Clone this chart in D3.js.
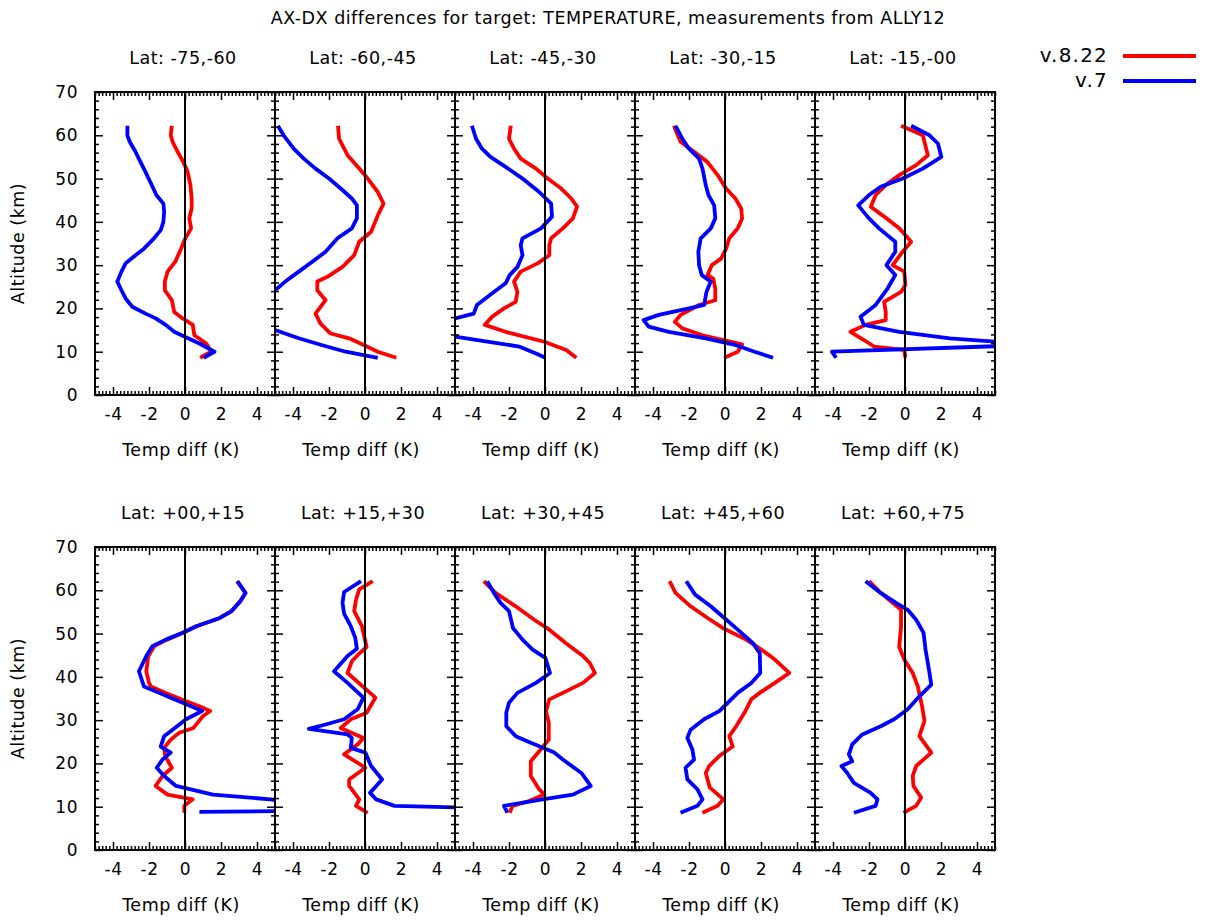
<!DOCTYPE html>
<html>
<head>
<meta charset="utf-8">
<script src="https://cdn.jsdelivr.net/npm/d3@7"></script>
<style>
  body { margin: 0; background: #fff; }
  svg { font-family: "DejaVu Sans", sans-serif; }
</style>
</head>
<body>
<svg id="chart" width="1206" height="924"></svg>
<script>
// latitude bands, one panel each
const latBands = ['-75,-60', '-60,-45', '-45,-30', '-30,-15', '-15,-00',
                  '+00,+15', '+15,+30', '+30,+45', '+45,+60', '+60,+75'];
const seriesNames = ['v.8.22', 'v.7'];
const seriesColors = ['#ff0000', '#0000ff'];
const xTicks = [-4, -2, 0, 2, 4];
const yTicks = [0, 10, 20, 30, 40, 50, 60, 70];

// profiles as [altitude km, temp diff K]
const red_m75_m60 = [[62.2,-0.73],[60,-0.79],[58.5,-0.69],[56.2,-0.41],[53.8,-0.09],[51.5,0.15],[48.5,0.3],[45.4,0.37],[43.1,0.37],[40.8,0.24],[38.5,0.34],[36.2,0.02],[33.8,-0.22],[30.8,-0.54],[28.5,-0.97],[26.2,-1.12],[24.2,-1.12],[21.9,-0.73],[19.2,-0.6],[17.7,-0.13],[16.2,0.43],[13.8,0.52],[11.9,1.18],[10,1.46],[8.6,0.84]];
const blue_m75_m60 = [[62.2,-3.2],[60,-3.2],[58.5,-3.07],[56.2,-2.75],[53.8,-2.47],[51.5,-2.19],[48.5,-1.85],[46.2,-1.59],[44.2,-1.2],[42.3,-1.16],[40,-1.2],[38.1,-1.35],[36.2,-1.72],[33.8,-2.28],[32.3,-2.75],[30.4,-3.3],[28.5,-3.53],[26.2,-3.76],[24.2,-3.53],[22.3,-3.3],[20.4,-2.93],[18.8,-2.19],[17.7,-1.63],[16.2,-1.07],[14.6,-0.6],[13.5,-0.04],[11.9,0.8],[10,1.64],[8.6,1.03]];

const red_m60_m45 = [[62.2,-1.5],[59.2,-1.44],[55.4,-0.97],[52.3,-0.32],[50,0.15],[46.9,0.71],[44.2,1.03],[41.5,0.71],[37.7,0.34],[35.4,-0.32],[32.3,-0.6],[29.6,-1.25],[27.3,-2.09],[26.2,-2.65],[24.2,-2.65],[21.9,-2.19],[18.8,-2.75],[16.5,-2.47],[14.2,-1.91],[13.1,-0.88],[11.5,-0.04],[10,0.71],[8.6,1.74]];
const blue_m60_m45 = [[62.2,-4.84],[60,-4.52],[56.9,-3.96],[54.6,-3.4],[52.3,-2.75],[50,-2.0],[47.7,-1.35],[45.4,-0.73],[43.8,-0.45],[40.8,-0.45],[38.5,-0.73],[36.2,-1.53],[33.1,-2.19],[30.8,-2.93],[28.5,-3.68],[26.2,-4.43],[24.2,-5.0],[21.5,-6.2],[18.5,-6.6],[15.0,-5.0],[13.1,-3.68],[11.5,-2.37],[10,-1.07],[8.6,0.71]];

const red_m45_m30 = [[62.2,-1.9],[59.2,-2.0],[56.9,-1.72],[54.6,-1.35],[52.3,-0.5],[50,0.15],[47.7,0.9],[45.4,1.46],[43.5,1.78],[40.8,1.55],[38.5,0.99],[36.2,0.34],[34.6,0.24],[32.3,0.24],[30.4,-0.41],[28.5,-1.35],[26.2,-1.72],[23.8,-1.53],[21.5,-1.63],[20,-2.28],[18.1,-2.93],[16.2,-3.35],[14.6,-2.19],[12.3,-0.04],[10.4,1.18],[8.6,1.74]];
const blue_m45_m30 = [[62.2,-4.06],[59.2,-3.83],[56.9,-3.5],[55,-3.03],[52.7,-2.19],[50,-1.25],[46.9,-0.32],[44.2,0.34],[41.2,0.39],[38.5,-0.22],[36.2,-1.25],[34.6,-1.35],[32.3,-1.25],[29.6,-1.53],[27.7,-1.96],[25.8,-2.19],[23.5,-2.93],[20.8,-3.78],[18.8,-3.96],[17.7,-5.0],[16.0,-6.0],[14.5,-6.0],[13.5,-5.0],[12.3,-3.12],[11.2,-1.44],[9.6,-0.5],[8.6,0.02]];

const red_m30_m15 = [[62.2,-2.84],[58.5,-2.47],[56.2,-1.72],[53.8,-0.97],[50.8,-0.41],[47.7,0.06],[45.4,0.58],[43.1,0.9],[40.8,0.95],[38.5,0.71],[36.2,0.24],[33.8,0.06],[31.5,-0.22],[30,-0.73],[27.7,-0.97],[26.9,-0.65],[24.6,-0.54],[21.9,-0.54],[20.8,-1.44],[18.5,-2.47],[16.9,-2.79],[15.4,-2.37],[13.8,-1.25],[12.7,-0.09],[11.7,0.95],[10,0.71],[8.6,-0.04]];
const blue_m30_m15 = [[62.2,-2.75],[59.2,-2.37],[56.9,-2.0],[54.6,-1.44],[52.3,-1.25],[48.5,-1.07],[46.2,-0.92],[43.8,-0.6],[40.8,-0.54],[38.5,-0.79],[36.2,-1.35],[33.1,-1.48],[30,-1.44],[27.7,-1.29],[26.2,-0.79],[23.8,-1.03],[20.8,-1.16],[20,-2.0],[18.5,-3.68],[17.3,-4.52],[15.8,-4.24],[14.6,-3.12],[13.1,-1.07],[11.5,0.62],[10,1.64],[8.6,2.67]];

const red_m15_m00 = [[62.2,-0.22],[60,0.99],[58.5,1.08],[55.4,1.27],[53.1,0.62],[50.8,-0.32],[48.5,-1.07],[46.2,-1.63],[43.5,-1.9],[41.5,-1.25],[38.5,-0.32],[35.4,0.34],[33.1,-0.13],[30,-0.69],[28.5,-0.04],[25.4,0.02],[23.8,-0.22],[21.5,-1.16],[19.2,-1.07],[17.3,-1.07],[16.2,-2.19],[14.6,-3.03],[12.7,-2.28],[11.2,-1.72],[10.4,-0.04],[8.6,0.02]];
const blue_m15_m00 = [[62.2,0.34],[60,1.36],[58.1,1.83],[55,2.02],[52.3,0.99],[50,-0.13],[48.1,-1.35],[46.2,-2.0],[43.8,-2.6],[40.8,-2.0],[38.5,-1.44],[35.4,-0.54],[33.1,-0.54],[30,-1.03],[27.7,-0.54],[24.6,-0.97],[20.8,-1.63],[18.1,-2.47],[16.2,-2.28],[14.6,-0.32],[13.1,2.49],[12.3,5.1],[11.8,5.7],[11.3,5.3],[10,-4.06],[8.6,-3.83]];

const red_p00_p15 = [[62.1,2.9],[59.4,3.36],[57.5,3.08],[55.2,2.6],[53.6,1.95],[51.7,0.65],[50.2,-0.1],[48.6,-1.0],[47.1,-1.7],[44.8,-2.04],[41.3,-2.15],[38.6,-2.0],[37.8,-1.9],[36.3,-1.07],[34.8,-0.22],[33.2,0.8],[32.1,1.4],[30.9,0.99],[28.2,0.47],[27.1,-0.32],[25.5,-0.79],[23.6,-1.16],[21.7,-1.1],[19,-0.73],[17.1,-1.25],[14.8,-1.63],[12.8,-0.97],[11.7,0.43],[10.2,-0.04],[8.6,-0.04]];
const blue_p00_p15 = [[62.1,2.9],[59.4,3.36],[57.5,3.08],[55.2,2.58],[53.6,1.93],[51.7,0.62],[50.2,-0.13],[48.6,-1.07],[47.1,-1.81],[44.8,-2.15],[41.3,-2.56],[37.8,-2.28],[36.3,-1.44],[34.8,-0.6],[33.2,0.34],[32.1,0.95],[30.2,0.06],[27.8,-0.69],[26.3,-1.16],[23.9,-1.35],[22.5,-0.79],[20.9,-1.25],[19,-1.57],[17.1,-1.16],[14.8,-0.5],[12.8,1.55],[11.7,4.73],[11.2,5.6],[9.0,6.0],[8.8,0.8]];

const red_p15_p30 = [[62.1,0.43],[60.2,-0.32],[57.8,-0.5],[55.2,-0.6],[51.7,-0.17],[46.9,0.09],[45,-0.41],[43.6,-0.73],[40.9,-0.97],[37.8,-0.13],[35.2,0.58],[31.7,0.09],[30.2,-0.79],[28.2,-1.35],[25.9,-0.09],[24.4,-0.41],[22.1,-1.16],[19,0.02],[16.3,-0.88],[14.8,-0.88],[11.7,-0.32],[10.2,-0.5],[8.6,0.15]];
const blue_p15_p30 = [[62.1,-0.22],[59.6,-1.16],[57.1,-1.25],[54.6,-1.16],[51.7,-0.79],[49,-0.54],[46.5,-0.45],[44.8,-0.97],[41.3,-1.72],[38.6,-0.97],[35.2,-0.09],[32.5,-0.41],[30.2,-1.16],[29,-2.19],[28,-3.12],[26.7,-0.97],[25.9,-0.73],[23.6,-0.79],[22.5,0.02],[19.4,0.34],[16.3,0.95],[13.2,0.28],[11.7,0.62],[10.2,1.64],[9.8,5.6]];

const red_p30_p45 = [[62.1,-3.4],[59.4,-2.75],[56.3,-1.63],[53.2,-0.6],[50.9,0.24],[47.7,1.18],[44.8,2.11],[43.2,2.49],[40.9,2.77],[38.6,2.11],[36.3,0.99],[34.8,0.24],[32.1,0.06],[29.4,0.21],[25.5,0.21],[22.8,-0.32],[20.5,-0.79],[17.1,-0.79],[14,-0.32],[12.8,-0.04],[11.3,-0.88],[10.2,-1.81],[8.6,-1.96]];
const blue_p30_p45 = [[62.1,-3.21],[59.4,-2.84],[57.1,-2.47],[55.2,-2.0],[51.3,-1.78],[48.6,-1.25],[46.3,-0.69],[44.4,0.02],[40.9,0.28],[38.6,-0.5],[36.3,-1.53],[34,-2.0],[31.7,-2.15],[28.6,-2.15],[26.3,-1.63],[24.8,-0.79],[22.5,0.52],[20.9,0.99],[17.8,2.02],[14.8,2.54],[12.8,1.55],[11.7,-0.13],[10.2,-2.28],[8.6,-2.09]];

const red_p45_p60 = [[62.1,-3.08],[59.4,-2.75],[56.3,-1.91],[53.6,-0.97],[51.3,-0.13],[48.6,1.18],[46.3,2.02],[44,2.77],[40.9,3.57],[38.6,2.77],[36.3,1.93],[34.8,1.46],[31.7,1.08],[28.6,0.62],[26.3,0.24],[23.9,0.43],[21.7,-0.32],[19.4,-0.88],[17.8,-1.07],[14.4,-0.84],[11.7,-0.09],[10.2,-0.41],[8.6,-1.25]];
const blue_p45_p60 = [[62.1,-2.15],[59,-1.66],[56.3,-0.79],[53.6,-0.04],[50.9,0.71],[47.8,1.55],[45.5,1.93],[40.9,1.96],[38.6,1.46],[36.3,0.71],[34,0.15],[32.1,-0.32],[30.2,-1.16],[27.8,-1.91],[25.9,-2.09],[23.2,-1.81],[20.9,-1.72],[19,-2.19],[16.3,-2.09],[14,-1.53],[11.7,-1.25],[10.2,-1.53],[8.6,-2.47]];

const red_p60_p75 = [[62.1,-2.0],[59.4,-1.35],[55.5,-0.22],[51.7,-0.22],[46.9,-0.32],[44,-0.04],[40.9,0.43],[37.8,0.71],[33.2,0.95],[29.8,1.08],[26.3,0.8],[22.5,1.46],[19.4,0.62],[17.1,0.43],[14.8,0.47],[12.1,0.9],[10.2,0.62],[8.6,-0.09]];
const blue_p60_p75 = [[62.1,-2.19],[59.4,-1.35],[57.1,-0.5],[55.5,0.15],[53.2,0.62],[50.2,1.03],[46.3,1.14],[41.7,1.33],[38.2,1.46],[35.5,0.8],[32.5,0.15],[30.2,-0.6],[28.6,-1.35],[26.7,-2.37],[24.4,-2.93],[22.1,-3.12],[20.5,-2.93],[19.4,-3.53],[17.8,-3.21],[15.5,-2.84],[13.2,-1.91],[11.7,-1.53],[10.2,-1.63],[8.6,-2.84]];

const redProfiles = [red_m75_m60, red_m60_m45, red_m45_m30, red_m30_m15, red_m15_m00,
                     red_p00_p15, red_p15_p30, red_p30_p45, red_p45_p60, red_p60_p75];
const blueProfiles = [blue_m75_m60, blue_m60_m45, blue_m45_m30, blue_m30_m15, blue_m15_m00,
                      blue_p00_p15, blue_p15_p30, blue_p30_p45, blue_p45_p60, blue_p60_p75];

const svg = d3.select('#chart');
const fs = 17.5;
const ls = '0.5px';

svg.append('rect').attr('width', 1206).attr('height', 924).attr('fill', '#fff');

const panelW = 180, panelH = 303;
const left0 = 95;
const rowTop = [92, 547];

const x = d3.scaleLinear().domain([-5, 5]).range([0, panelW]);
const y = d3.scaleLinear().domain([0, 70]).range([panelH, 0]);

const xMinor = d3.range(-50, 51, 2).map(d => d / 10).filter(d => Math.abs(d % 2) > 1e-6);
const yMinor = d3.range(0, 71, 2).filter(d => d % 10 !== 0);

const line = d3.line().x(d => x(d[1])).y(d => y(d[0]));

svg.append('clipPath').attr('id', 'clip')
  .append('rect').attr('width', panelW).attr('height', panelH);

function styleAxis(g) {
  g.select('.domain').remove();
  g.selectAll('line').attr('stroke', '#000').attr('stroke-width', 1.5);
  g.selectAll('text').attr('fill', '#000').style('font-size', '17px')
    .style('letter-spacing', ls)
    .style('font-family', '"DejaVu Sans", sans-serif');
}

// main title
svg.append('text')
  .attr('x', 608).attr('y', 24)
  .attr('text-anchor', 'middle')
  .style('font-size', fs + 'px').style('letter-spacing', ls)
  .text('AX-DX differences for target: TEMPERATURE, measurements from ALLY12');

latBands.forEach((band, i) => {
  const row = Math.floor(i / 5), col = i % 5;
  const g = svg.append('g')
    .attr('transform', `translate(${left0 + col * panelW},${rowTop[row]})`);

  // data lines, clipped to the frame (v.7 on top)
  const lines = g.append('g').attr('clip-path', 'url(#clip)');
  [redProfiles[i], blueProfiles[i]].forEach((prof, s) => {
    lines.append('path')
      .datum(prof)
      .attr('d', line)
      .attr('fill', 'none')
      .attr('stroke', seriesColors[s])
      .attr('stroke-width', 3.8)
      .attr('stroke-linejoin', 'round');
  });

  // zero line
  g.append('line')
    .attr('x1', x(0)).attr('x2', x(0))
    .attr('y1', 0).attr('y2', panelH)
    .attr('stroke', '#000').attr('stroke-width', 2);

  // ticks, all pointing inward
  g.append('g').attr('transform', `translate(0,${panelH})`)
    .call(d3.axisBottom(x).tickValues(xMinor).tickSize(-4).tickFormat(''))
    .call(styleAxis);
  g.append('g').attr('transform', `translate(0,${panelH})`)
    .call(d3.axisBottom(x).tickValues(xTicks).tickSize(-8).tickPadding(13).tickFormat(d => String(d)))
    .call(styleAxis);
  g.append('g')
    .call(d3.axisTop(x).tickValues(xMinor).tickSize(-4).tickFormat(''))
    .call(styleAxis);
  g.append('g')
    .call(d3.axisTop(x).tickValues(xTicks).tickSize(-8).tickFormat(''))
    .call(styleAxis);

  g.append('g')
    .call(d3.axisLeft(y).tickValues(yMinor).tickSize(-4).tickFormat(''))
    .call(styleAxis);
  g.append('g')
    .call(d3.axisLeft(y).tickValues(yTicks).tickSize(-8).tickPadding(17)
      .tickFormat(col === 0 ? d => String(d) : ''))
    .call(styleAxis);
  g.append('g').attr('transform', `translate(${panelW},0)`)
    .call(d3.axisRight(y).tickValues(yMinor).tickSize(-4).tickFormat(''))
    .call(styleAxis);
  g.append('g').attr('transform', `translate(${panelW},0)`)
    .call(d3.axisRight(y).tickValues(yTicks).tickSize(-8).tickFormat(''))
    .call(styleAxis);

  // frame
  g.append('rect')
    .attr('width', panelW).attr('height', panelH)
    .attr('fill', 'none').attr('stroke', '#000').attr('stroke-width', 2);

  // panel title and x label
  g.append('text')
    .attr('x', panelW / 2 - 2).attr('y', -28)
    .attr('text-anchor', 'middle')
    .style('font-size', fs + 'px').style('letter-spacing', ls)
    .text('Lat: ' + band);
  g.append('text')
    .attr('x', panelW / 2 - 4).attr('y', panelH + 61)
    .attr('text-anchor', 'middle')
    .style('font-size', fs + 'px').style('letter-spacing', ls)
    .text('Temp diff (K)');

  if (col === 0) {
    g.append('text')
      .attr('transform', `translate(${-71},${panelH / 2}) rotate(-90)`)
      .attr('text-anchor', 'middle')
      .style('font-size', fs + 'px').style('letter-spacing', ls)
      .text('Altitude (km)');
  }
});

// legend
const legend = svg.append('g');
seriesNames.forEach((name, s) => {
  const ly = 56 + s * 25;
  legend.append('text')
    .attr('x', 1108).attr('y', ly + 6)
    .attr('text-anchor', 'end')
    .style('font-size', '20px').style('letter-spacing', '1.2px')
    .text(name);
  legend.append('line')
    .attr('x1', 1123).attr('x2', 1196)
    .attr('y1', ly).attr('y2', ly)
    .attr('stroke', seriesColors[s]).attr('stroke-width', 4);
});
</script>
</body>
</html>
